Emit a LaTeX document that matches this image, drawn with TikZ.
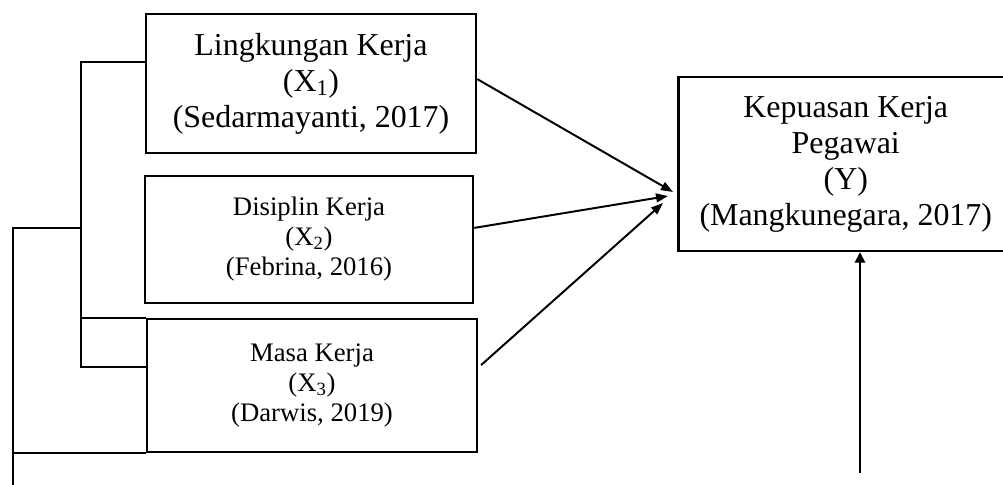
\documentclass[tikz,border=0pt]{standalone}
\usepackage{fontspec}
\setmainfont{Liberation Serif}
\usetikzlibrary{arrows.meta}

\tikzset{
	boxline/.style={draw, line width=1.8pt, inner sep=0pt},
	bigbox/.style={boxline, align=center, font=\fontsize{22.7}{25.6}\selectfont},
	smallbox/.style={bigbox, font=\fontsize{19}{21.3}\selectfont},
	ybox/.style={boxline, font=\fontsize{22.7}{25.6}\selectfont},
	link/.style={line width=1.4pt},
	arr/.style={line width=1.4pt, -{Triangle[length=3mm,width=2.2mm]}},
	uparr/.style={line width=1.1pt, -{Triangle[length=2.6mm,width=2.6mm]}}
}

\begin{document}
\begin{tikzpicture}[x=0.25mm, y=-0.25mm]
			\useasboundingbox (0,0) rectangle (1003,485);
			\clip (0,0) rectangle (1003,485);

			\node[bigbox, minimum width=82.5mm, minimum height=34.75mm] (lk) at (311,83.5)
			{Lingkungan Kerja\\(X\textsubscript{1})\\(Sedarmayanti, 2017)};
			\node[smallbox, minimum width=82mm, minimum height=31.75mm] (dk) at (309,239.5)
			{Disiplin Kerja\\(X\textsubscript{2})\\(Febrina, 2016)};
			\node[smallbox, minimum width=82.5mm, minimum height=33.25mm] (mk) at (312,385.5)
			{Masa Kerja\\(X\textsubscript{3})\\(Darwis, 2019)};
			% kotak Y terpotong di tepi kanan
			\node[ybox, anchor=west, minimum width=95mm, minimum height=43.5mm] (kp) at (677,164)
			{\hspace*{-11.25mm}\begin{tabular}{@{}c@{}}Kepuasan Kerja\\Pegawai\\(Y)\\(Mangkunegara, 2017)\end{tabular}};

			% garis penghubung kiri
			\coordinate (brtop) at (81,62);
			\coordinate (brbot) at (81,367);
			\coordinate (outtop) at (13,228);
			\coordinate (outbot) at (13,486);
			\draw[link] (lk.west |- brtop) -- (brtop) -- (brbot) -- (mk.west |- brbot);
			\draw[link] (brtop |- mk.north) -- (mk.north west);
			\draw[link] (brtop |- outtop) -- (outtop) -- (outbot);
			\draw[link] (outbot |- mk.south) -- (mk.south west);

			% panah ke Y
			\coordinate (tipa) at (673,192);
			\coordinate (tipb) at (668,196);
			\coordinate (tipc) at (663,203);
			\draw[arr] ([yshift=1.1mm]lk.east) -- (tipa);
			\draw[arr] ([yshift=2.9mm]dk.east) -- (tipb);
			\draw[arr] ([xshift=0.7mm,yshift=5.1mm]mk.east) -- (tipc);
			\coordinate (ybase) at (860,473);
			\draw[uparr] (ybase) -- (ybase |- kp.south);
		\end{tikzpicture}
\end{document}
